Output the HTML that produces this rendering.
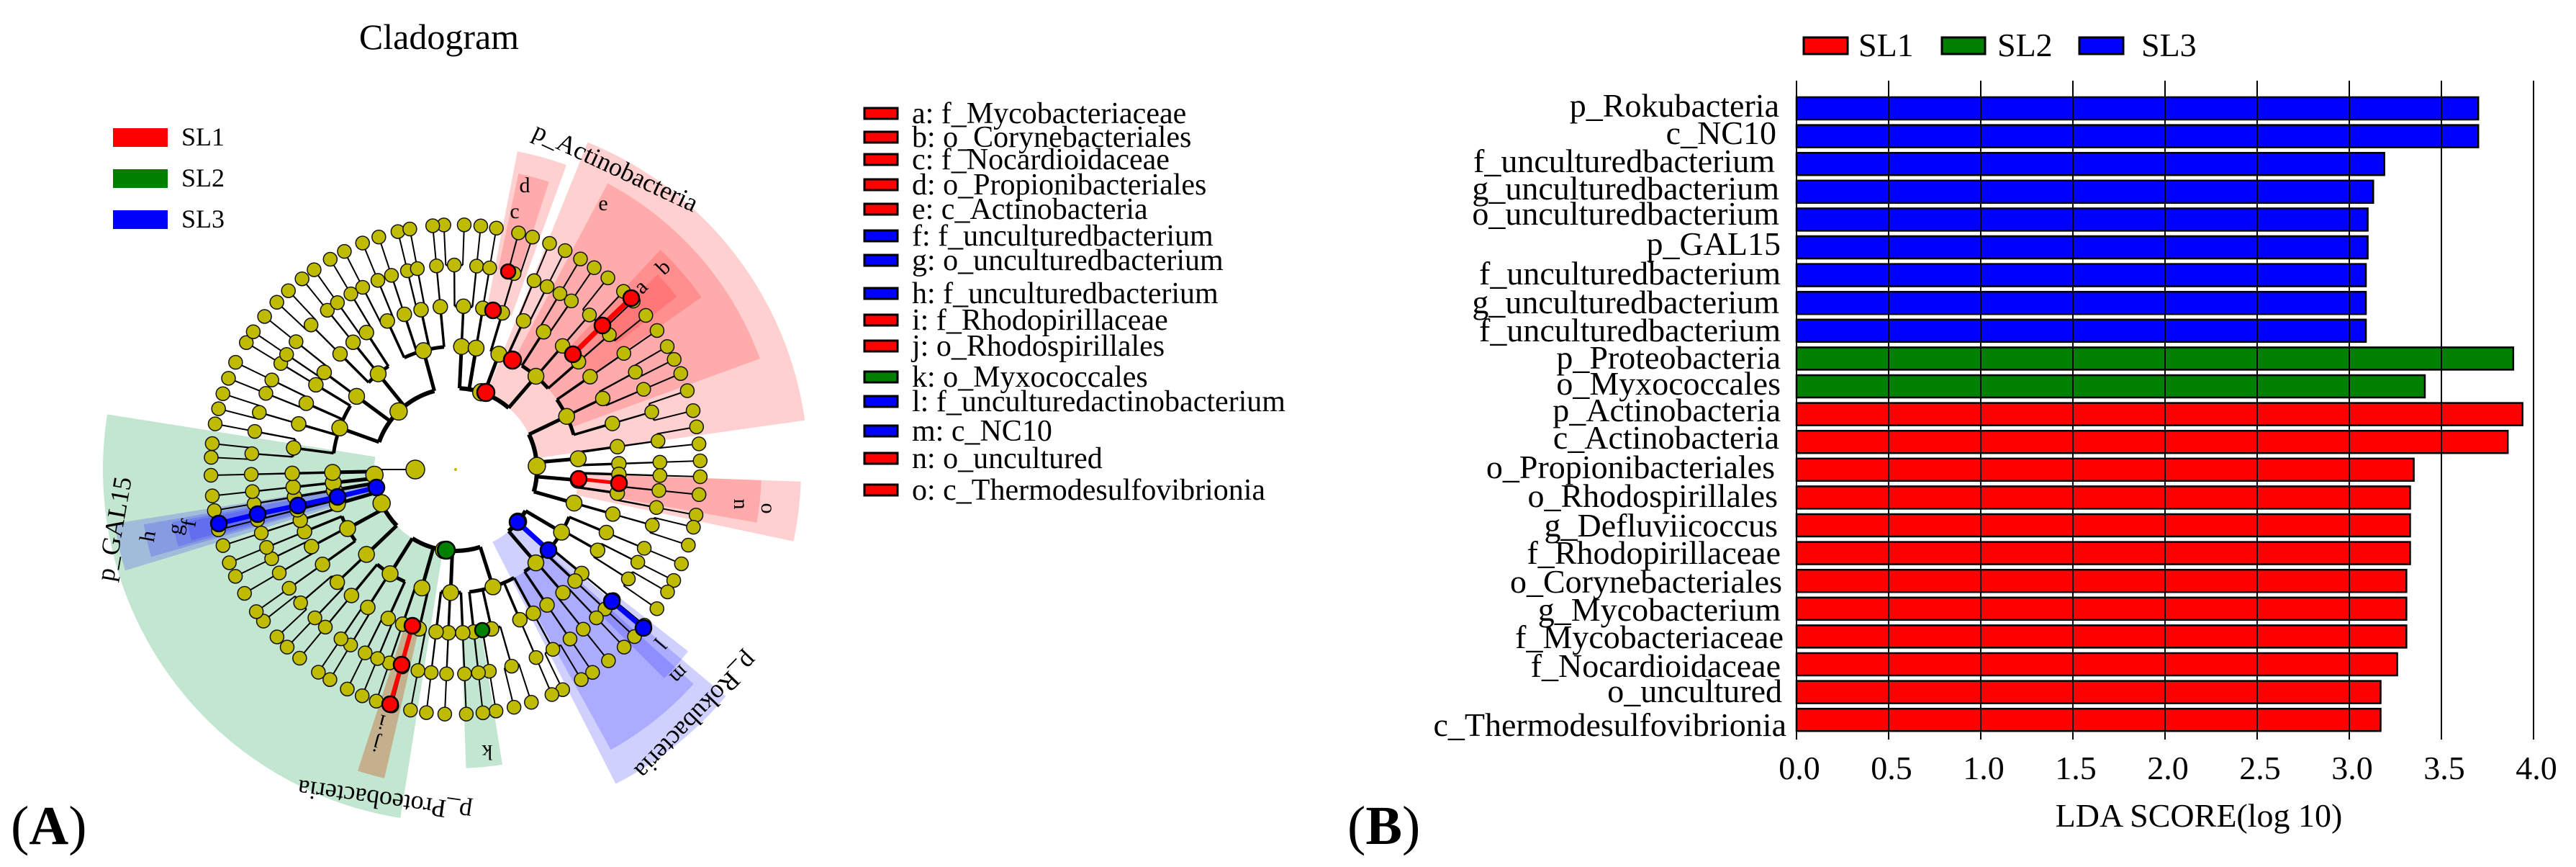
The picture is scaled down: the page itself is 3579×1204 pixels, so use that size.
<!DOCTYPE html>
<html><head><meta charset="utf-8"><style>
html,body{margin:0;padding:0;background:#fff;}
svg{display:block;}
svg text{font-family:"Liberation Serif",serif;}
</style></head><body>
<svg id="s" width="3579" height="1204" viewBox="0 0 3579 1204" xmlns="http://www.w3.org/2000/svg" font-family="Liberation Serif, serif">
<rect width="3579" height="1204" fill="#fff"/>
<g id="shade"></g>
<g id="tree"></g>
<g id="hl"></g>
<text x="610" y="68" font-size="50" text-anchor="middle">Cladogram</text>
<rect x="157" y="178" width="76" height="26" fill="#f00"/>
<rect x="157" y="235" width="76" height="26" fill="#008000"/>
<rect x="157" y="292" width="76" height="26" fill="#00f"/>
<text x="252" y="202" font-size="36">SL1</text>
<text x="252" y="259" font-size="36">SL2</text>
<text x="252" y="316" font-size="36">SL3</text>
<text font-size="36" transform="translate(854,235) rotate(25)" text-anchor="middle" dominant-baseline="middle">p_Actinobacteria</text>
<text font-size="36" transform="translate(162,735) rotate(-80)" text-anchor="middle" dominant-baseline="middle">p_GAL15</text>
<text font-size="36" transform="translate(535,1108) rotate(188)" text-anchor="middle" dominant-baseline="middle">p_Proteobacteria</text>
<text font-size="36" transform="translate(965,992) rotate(134)" text-anchor="middle" dominant-baseline="middle">p_Rokubacteria</text>
<g font-size="30" text-anchor="middle" dominant-baseline="middle">
<text x="729" y="260">d</text>
<text x="715" y="296">c</text>
<text x="838" y="285">e</text>
<text transform="translate(923,373) rotate(-45)">b</text>
<text transform="translate(892,400) rotate(-45)">a</text>
<text transform="translate(1027,700) rotate(90)">n</text>
<text transform="translate(1065,706) rotate(90)">o</text>
<text transform="translate(915,892) rotate(130)">l</text>
<text transform="translate(942,935) rotate(135)">m</text>
<text transform="translate(677,1042) rotate(180)">k</text>
<text transform="translate(523,1031) rotate(195)">j</text>
<text transform="translate(531,1000) rotate(195)">i</text>
<text transform="translate(208,745) rotate(-80)">h</text>
<text transform="translate(246,735) rotate(-80)">g</text>
<text transform="translate(265,727) rotate(-80)">f</text>
</g>
<text x="15" y="1172" font-size="76"><tspan>(</tspan><tspan font-weight="bold">A</tspan><tspan>)</tspan></text>
<text x="1872" y="1172" font-size="76"><tspan>(</tspan><tspan font-weight="bold">B</tspan><tspan>)</tspan></text>
<g id="leg"></g>
<g font-size="42">
<text x="1267" y="171">a: f_Mycobacteriaceae</text>
<text x="1267" y="204">b: o_Corynebacteriales</text>
<text x="1267" y="235">c: f_Nocardioidaceae</text>
<text x="1267" y="270">d: o_Propionibacteriales</text>
<text x="1267" y="304">e: c_Actinobacteria</text>
<text x="1267" y="341">f: f_unculturedbacterium</text>
<text x="1267" y="375">g: o_unculturedbacterium</text>
<text x="1267" y="421">h: f_unculturedbacterium</text>
<text x="1267" y="458">i: f_Rhodopirillaceae</text>
<text x="1267" y="494">j: o_Rhodospirillales</text>
<text x="1267" y="537">k: o_Myxococcales</text>
<text x="1267" y="571">l: f_unculturedactinobacterium</text>
<text x="1267" y="612">m: c_NC10</text>
<text x="1267" y="650">n: o_uncultured</text>
<text x="1267" y="694">o: c_Thermodesulfovibrionia</text>
</g>
<rect x="2506" y="52" width="61" height="23" fill="#f00" stroke="#000" stroke-width="3"/>
<rect x="2698" y="52" width="60" height="23" fill="#008000" stroke="#000" stroke-width="3"/>
<rect x="2889" y="52" width="61" height="23" fill="#00f" stroke="#000" stroke-width="3"/>
<text x="2582" y="78" font-size="46">SL1</text>
<text x="2775" y="78" font-size="46">SL2</text>
<text x="2975" y="78" font-size="46">SL3</text>
<g id="bars"></g>
<g font-size="46" text-anchor="end">
<text x="2472" y="162">p_Rokubacteria</text>
<text x="2468" y="200">c_NC10</text>
<text x="2466" y="239">f_unculturedbacterium</text>
<text x="2472" y="277">g_unculturedbacterium</text>
<text x="2472" y="312">o_unculturedbacterium</text>
<text x="2474" y="354">p_GAL15</text>
<text x="2474" y="395">f_unculturedbacterium</text>
<text x="2472" y="435">g_unculturedbacterium</text>
<text x="2474" y="474">f_unculturedbacterium</text>
<text x="2474" y="512">p_Proteobacteria</text>
<text x="2474" y="548">o_Myxococcales</text>
<text x="2474" y="585">p_Actinobacteria</text>
<text x="2472" y="623">c_Actinobacteria</text>
<text x="2466" y="664">o_Propionibacteriales</text>
<text x="2470" y="704">o_Rhodospirillales</text>
<text x="2470" y="745">g_Defluviicoccus</text>
<text x="2474" y="783">f_Rhodopirillaceae</text>
<text x="2476" y="823">o_Corynebacteriales</text>
<text x="2474" y="862">g_Mycobacterium</text>
<text x="2478" y="900">f_Mycobacteriaceae</text>
<text x="2474" y="940">f_Nocardioidaceae</text>
<text x="2476" y="975">o_uncultured</text>
<text x="2482" y="1022">c_Thermodesulfovibrionia</text>
</g>
<g font-size="46" text-anchor="middle" font-family="Liberation Serif, serif">
<text x="2500" y="1082">0.0</text>
<text x="2628" y="1082">0.5</text>
<text x="2756" y="1082">1.0</text>
<text x="2884" y="1082">1.5</text>
<text x="3012" y="1082">2.0</text>
<text x="3140" y="1082">2.5</text>
<text x="3268" y="1082">3.0</text>
<text x="3396" y="1082">3.5</text>
<text x="3524" y="1082">4.0</text>
<text x="3055" y="1148">LDA SCORE(log 10)</text>
</g>
</svg>
<script>
(function(){
var NS="http://www.w3.org/2000/svg";
function el(p,t,a){var e=document.createElementNS(NS,t);for(var k in a)e.setAttribute(k,a[k]);p.appendChild(e);return e;}
var cx=633,cy=652,R=[0,113,171,227,284,340];
function pt(r,a){var t=a*Math.PI/180;return [cx+r*Math.cos(t),cy+r*Math.sin(t)];}
function wedge(g,a1,a2,r1,r2,fill){
 var p1=pt(r2,a1),p2=pt(r2,a2),p3=pt(r1,a2),p4=pt(r1,a1);var lg=(a2-a1)>180?1:0;
 el(g,"path",{d:"M"+p4+"L"+p1+"A"+r2+","+r2+" 0 "+lg+" 1 "+p2+"L"+p3+"A"+r1+","+r1+" 0 "+lg+" 0 "+p4+"Z",fill:fill});
}
function arc(g,r,a1,a2,w,col){
 if(a2-a1<0.3)return;var p1=pt(r,a1),p2=pt(r,a2);var lg=(a2-a1)>180?1:0;
 el(g,"path",{d:"M"+p1+"A"+r+","+r+" 0 "+lg+" 1 "+p2,fill:"none",stroke:col||"#000","stroke-width":w});
}
var sh=document.getElementById("shade");
var R1="rgba(255,40,40,0.22)",B1="rgba(40,40,255,0.22)";
wedge(sh,99,189,113,490,"#c2e6d0");
wedge(sh,81,88,227,415,"#c2e6d0");
wedge(sh,103,108,227,440,"rgba(200,110,60,0.45)");
wedge(sh,-68,-8,113,490,R1);
wedge(sh,-62,-20,171,450,R1);
wedge(sh,-47,-35,227,417,R1);
wedge(sh,-44,-38,284,390,R1);
wedge(sh,-79,-70,227,450,R1);
wedge(sh,-78,-72,284,420,R1);
wedge(sh,2,12,171,480,R1);
wedge(sh,2,10,227,425,R1);
wedge(sh,163,171,113,480,B1);
wedge(sh,164,170,171,440,B1);
wedge(sh,164.5,169.5,227,400,B1);
wedge(sh,165,169,284,380,B1);
wedge(sh,40,63,113,490,B1);
wedge(sh,42,61,171,445,B1);
wedge(sh,38,45,284,410,B1);
var seed=11;function rnd(){seed=(seed*16807)%2147483647;return seed/2147483647;}
var tr=document.getElementById("tree");var lines=el(tr,"g",{}),nodes=el(tr,"g",{});
var W=[0,6,5,3.5,2.4,2],NR=[0,12,11,10,9.5,9.5];
var leaves=[];var N=88;
for(var i=0;i<N;i++){leaves.push({a:-92+i*(360/N)+(rnd()-0.5)*1.5,lv:5});}
function group(arr,lv,p1,mx){var out=[],i=0;while(i<arr.length){var n=rnd()<p1?1:2+Math.floor(rnd()*(mx-1));var ch=arr.slice(i,i+n);i+=n;
 var s=0;ch.forEach(function(c){s+=c.a;});out.push({a:s/ch.length,lv:lv,ch:ch});}return out;}
var l4=group(leaves,4,0.8,2),l3=group(l4,3,0.7,2),l2=group(l3,2,0.2,4),l1=group(l2,1,0.1,4);
function draw(n){
 if(n.ch){var mn=1e9,mx=-1e9;n.ch.forEach(function(c){mn=Math.min(mn,c.a);mx=Math.max(mx,c.a);
  var p=pt(R[n.lv],c.a),q=pt(R[c.lv],c.a);el(lines,"line",{x1:p[0],y1:p[1],x2:q[0],y2:q[1],stroke:"#000","stroke-width":W[c.lv]});draw(c);});
  arc(lines,R[n.lv],Math.min(mn,n.a),Math.max(mx,n.a),W[n.lv]);}
 var q=pt(R[n.lv],n.a);el(nodes,"circle",{cx:q[0],cy:q[1],r:NR[n.lv],fill:"#bfbb00",stroke:"#111","stroke-width":1.5});
}
l1.forEach(draw);
el(lines,"line",{x1:577,y1:652,x2:520,y2:652,stroke:"#000","stroke-width":2});
el(nodes,"circle",{cx:577,cy:652,r:13,fill:"#bfbb00",stroke:"#111","stroke-width":1.5});
el(nodes,"circle",{cx:633,cy:652,r:2,fill:"#bfbb00"});
var hl=document.getElementById("hl");
function chain(pts,col,w){for(var i=0;i<pts.length-1;i++)el(hl,"line",{x1:pts[i][0],y1:pts[i][1],x2:pts[i+1][0],y2:pts[i+1][1],stroke:col,"stroke-width":w});
 pts.forEach(function(p){if(p[2]===0)return;el(hl,"circle",{cx:p[0],cy:p[1],r:p[2]||11,fill:col,stroke:"#000","stroke-width":2.5});});}
chain([[675,545,12]],"#f00",0);
chain([[712,500,12]],"#f00",0);
chain([[685,431,11]],"#f00",0);
chain([[706,377,10]],"#f00",0);
chain([[796,492],[837,452],[877,414]],"#f00",7);
chain([[804,665],[860,671]],"#f00",5);
chain([[523,677],[469,690],[414,702],[358,714],[304,727]],"#00f",7);
chain([[719,725],[762,764]],"#00f",7);
chain([[850,835],[894,872]],"#00f",7);
chain([[620,764,12]],"#008000",0);
chain([[670,875,10]],"#008000",0);
chain([[573,869],[558,923],[542,978]],"#f00",6);
var lg=document.getElementById("leg");
var ys=[158,191,222,257,291,328,362,408,445,481,524,558,599,637,681];
var cs="rrrrrbbbrrgbbrr";
ys.forEach(function(y,i){el(lg,"rect",{x:1201,y:y-8,width:46,height:15,fill:{r:"#f00",g:"#008000",b:"#00f"}[cs[i]],stroke:"#000","stroke-width":3});});
var bg=document.getElementById("bars");
var vals=[3.70,3.70,3.19,3.13,3.10,3.10,3.09,3.09,3.09,3.89,3.41,3.94,3.86,3.35,3.33,3.33,3.33,3.31,3.31,3.31,3.26,3.17,3.17];
vals.forEach(function(v,i){var col=i<9?"#00f":(i<11?"#008000":"#f00");
 el(bg,"rect",{x:2496,y:135+i*38.6,width:v*256,height:31,fill:col,stroke:"#000","stroke-width":2.5});});
el(bg,"line",{x1:2496,y1:112,x2:2496,y2:1027,stroke:"#000","stroke-width":2});
for(var k=1;k<=8;k++)el(bg,"line",{x1:2496+k*128,y1:112,x2:2496+k*128,y2:1027,stroke:"#000","stroke-width":2});
})();
</script>
</body></html>
